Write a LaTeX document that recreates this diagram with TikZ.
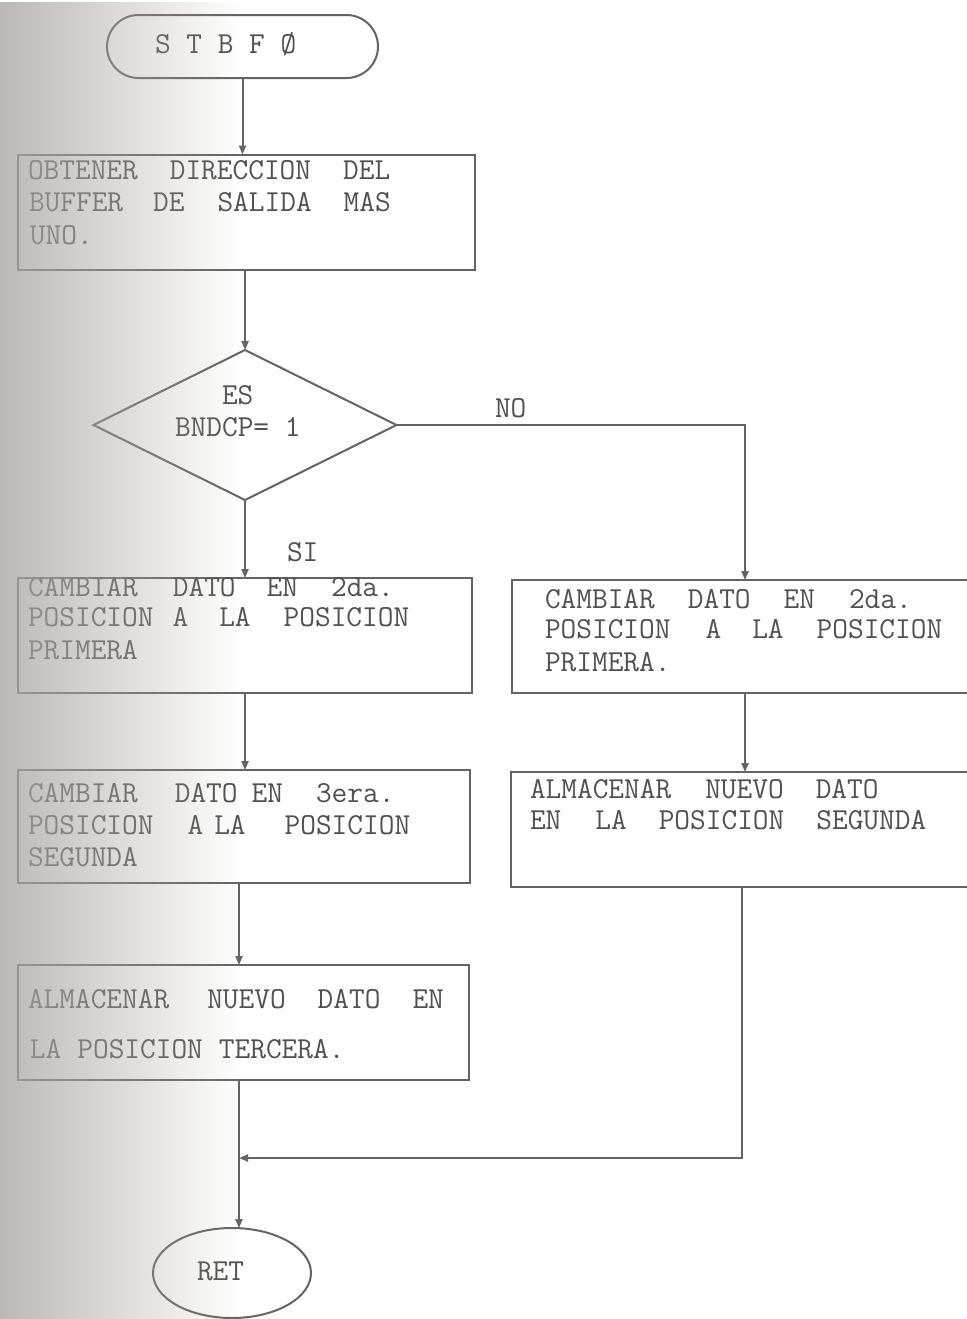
\documentclass[tikz,border=0pt]{standalone}
\usepackage{fontspec}
\usetikzlibrary{shapes.geometric,shapes.misc,arrows.meta,fadings}
\definecolor{ink}{RGB}{80,80,80}
\definecolor{linec}{RGB}{100,100,100}
\definecolor{scan}{RGB}{170,167,162}
\tikzfading[name=scanfade, left color=transparent!20, right color=transparent!100]
\newcommand\gp[1]{\hspace*{#1pt}}
\begin{document}
\begin{tikzpicture}[x=0.5pt,y=-0.5pt,
  every node/.style={inner sep=0pt, outer sep=0pt},
  shp/.style={draw=linec, line width=1pt},
  box/.style 2 args={shp, rectangle, minimum width=#1*0.5pt, minimum height=#2*0.5pt},
  txt/.style={anchor=base west, text=ink, font=\ttfamily\fontsize{15.24}{18}\selectfont},
  arr/.style={draw=linec, line width=1pt, -{Triangle[length=4.5pt,width=3.5pt]}},
  ln/.style={draw=linec, line width=1pt}]
\useasboundingbox (0,0) rectangle (967,1319);
\fill[white] (0,0) rectangle (967,1319);
\clip (0,0) rectangle (967,1319);

% shapes
\node[shp, rounded rectangle, minimum width=271*0.5pt, minimum height=63*0.5pt] (start) at (242.5,46.5) {};
\node[box={457}{115}] (b1) at (246.5,212) {};
\node[shp, diamond, minimum width=303*0.5pt, minimum height=150*0.5pt] (d) at (245,425) {};
\node[box={454}{115}] (b2L) at (245,635.5) {};
\node[box={466}{113}] (b2R) at (745,636.5) {};
\node[box={452}{113}] (b3L) at (244,826.5) {};
\node[box={462}{115}] (b3R) at (742,829.5) {};
\node[box={451}{115}] (b4L) at (243.5,1022.5) {};
\node[shp, ellipse, minimum width=158*0.5pt, minimum height=90*0.5pt] (ret) at (232,1273) {};
\coordinate (j) at (239,1158);

% texts
\node[txt] (ts) at (155,53) {S T B F Ø};
\node[txt] (t1a) at (28,179) {OBTENER\gp{16}DIRECCION\gp{16}DEL};
\node[txt] (t1b) at (29,211) {BUFFER\gp{15}DE\gp{16.5}SALIDA\gp{16}MAS};
\node[txt] (t1c) at (30,244) {UNO.};
\node[txt] (tes) at (222,404) {ES};
\node[txt] (tbn) at (175,436) {BNDCP= 1};
\node[txt] (tno) at (495,417) {NO};
\node[txt] (tsi) at (287,561) {SI};
\node[txt] (t2a) at (28,596) {CAMBIAR\gp{17.5}DATO\gp{15.5}EN\gp{16.5}2da.};
\node[txt] (t2b) at (28,626) {POSICION\gp{9.5}A\gp{15.5}LA\gp{16.5}POSICION};
\node[txt] (t2c) at (28,659) {PRIMERA};
\node[txt] (r2a) at (545,608) {CAMBIAR\gp{16.5}DATO\gp{16.5}EN\gp{17}2da.};
\node[txt] (r2b) at (545,638) {POSICION\gp{17.5}A\gp{15.5}LA\gp{16.5}POSICION};
\node[txt] (r2c) at (545,671) {PRIMERA.};
\node[txt] (t3a) at (28,802) {CAMBIAR\gp{18.5}DATO\gp{7}EN\gp{16.5}3era.};
\node[txt] (t3b) at (28,834) {POSICION\gp{17}A\gp{5.5}LA\gp{19.5}POSICION};
\node[txt] (t3c) at (28,866) {SEGUNDA};
\node[txt] (r3a) at (530,798) {ALMACENAR\gp{17}NUEVO\gp{16}DATO};
\node[txt] (r3b) at (530,829) {EN\gp{17}LA\gp{16}POSICION\gp{16}SEGUNDA};
\node[txt] (t4a) at (28,1008) {ALMACENAR\gp{19}NUEVO\gp{16}DATO\gp{16}EN};
\node[txt] (t4b) at (30,1058) {LA\gp{8}POSICION\gp{8}TERCERA.};
\node[txt] (tr) at (197,1280) {RET};

% connectors
\draw[arr] (start.south) -- (start.south |- b1.north);
\draw[arr] (b1.south -| d.north) -- (d.north);
\draw[arr] (d.east) -| (b2R.north);
\draw[arr] (d.south) -- (d.south |- b2L.north);
\draw[arr] (b2L.south -| d.south) -- (d.south |- b3L.north);
\draw[arr] (b2R.south) -- (b2R.south |- b3R.north);
\draw[arr] (b3L.south -| j) -- (j |- b4L.north);
\draw[arr] (b4L.south -| j) -- (j |- ret.north);
\draw[arr] (b3R.south) |- (j);

% scan shading at the left edge
\fill[scan, path fading=scanfade] (0,0) rectangle (240,1319);
\end{tikzpicture}
\end{document}
